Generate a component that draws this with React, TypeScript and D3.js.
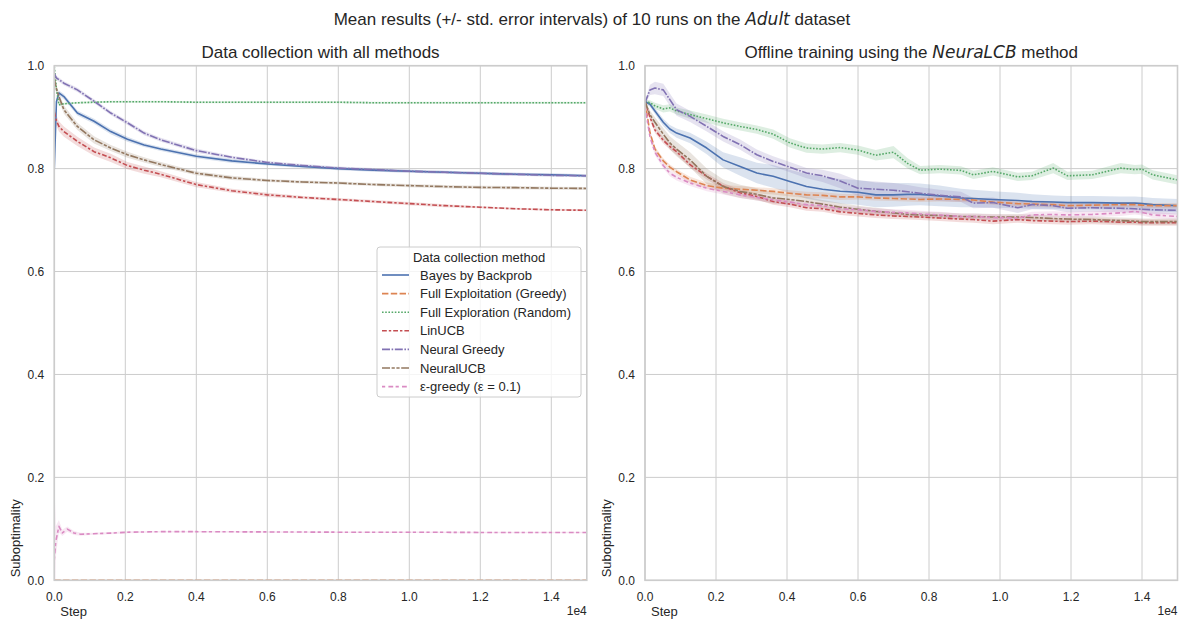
import React from 'react';
import * as d3 from 'd3';

// ---------- DATA ----------
const SERIES_NAMES = [
  'Bayes by Backprob',
  'Full Exploitation (Greedy)',
  'Full Exploration (Random)',
  'LinUCB',
  'Neural Greedy',
  'NeuralUCB',
  'ε-greedy (ε = 0.1)',
];

const X_TICKS = [0, 2000, 4000, 6000, 8000, 10000, 12000, 14000];
const Y_TICKS = [0, 0.2, 0.4, 0.6, 0.8, 1.0];

// Left panel: data collection
const LEFT_STEPS = [0, 60, 130, 270, 650, 1120, 1590, 2060, 2530, 3000, 4000, 5000, 6000, 7000, 8000, 9000, 10000, 11000, 12000, 13000, 14000, 15000];
const EPS_STEPS = [0, 40, 130, 225, 366, 555, 743, 1100, 1590, 2060, 3000, 4000, 6000, 8000, 10000, 12000, 15000];

const leftBayes = [0.80, 0.93, 0.947, 0.940, 0.908, 0.892, 0.872, 0.857, 0.846, 0.838, 0.824, 0.815, 0.809, 0.804, 0.800, 0.797, 0.795, 0.793, 0.791, 0.789, 0.788, 0.786];
const leftBayesErr = [0.01, 0.006, 0.005, 0.005, 0.005, 0.005, 0.005, 0.005, 0.004, 0.004, 0.004, 0.004, 0.003, 0.003, 0.003, 0.003, 0.003, 0.003, 0.003, 0.003, 0.003, 0.003];
// not visible in the reference: lies on the bottom spine (suboptimality 0)
const leftGreedy = [0, 0, 0, 0, 0, 0, 0, 0, 0, 0, 0, 0, 0, 0, 0, 0, 0, 0, 0, 0, 0, 0];
const leftGreedyErr = [0, 0, 0, 0, 0, 0, 0, 0, 0, 0, 0, 0, 0, 0, 0, 0, 0, 0, 0, 0, 0, 0];
const leftRandom = [0.998, 0.955, 0.924, 0.926, 0.928, 0.929, 0.930, 0.930, 0.930, 0.930, 0.929, 0.929, 0.929, 0.929, 0.929, 0.928, 0.928, 0.928, 0.928, 0.928, 0.928, 0.928];
const leftRandomErr = [0.004, 0.004, 0.003, 0.002, 0.002, 0.002, 0.002, 0.002, 0.002, 0.002, 0.002, 0.002, 0.002, 0.002, 0.002, 0.002, 0.002, 0.002, 0.002, 0.002, 0.002, 0.002];
const leftLinUCB = [0.91, 0.893, 0.882, 0.872, 0.853, 0.833, 0.821, 0.806, 0.797, 0.789, 0.769, 0.757, 0.749, 0.744, 0.740, 0.736, 0.732, 0.728, 0.725, 0.722, 0.720, 0.719];
const leftLinUCBErr = [0.012, 0.01, 0.01, 0.01, 0.009, 0.008, 0.008, 0.007, 0.007, 0.006, 0.005, 0.004, 0.004, 0.003, 0.003, 0.003, 0.003, 0.003, 0.002, 0.002, 0.002, 0.002];
const leftNeuralGreedy = [0.985, 0.976, 0.973, 0.966, 0.953, 0.931, 0.908, 0.889, 0.869, 0.856, 0.835, 0.822, 0.812, 0.806, 0.801, 0.798, 0.795, 0.793, 0.791, 0.789, 0.787, 0.786];
const leftNeuralGreedyErr = [0.005, 0.004, 0.004, 0.004, 0.004, 0.004, 0.004, 0.004, 0.004, 0.004, 0.004, 0.003, 0.003, 0.003, 0.003, 0.003, 0.003, 0.003, 0.003, 0.003, 0.003, 0.003];
const leftNeuralUCB = [0.975, 0.955, 0.940, 0.9145, 0.882, 0.856, 0.840, 0.827, 0.817, 0.808, 0.791, 0.782, 0.777, 0.774, 0.772, 0.769, 0.767, 0.765, 0.7635, 0.763, 0.762, 0.7615];
const leftNeuralUCBErr = [0.01, 0.008, 0.008, 0.008, 0.007, 0.007, 0.006, 0.006, 0.005, 0.005, 0.004, 0.004, 0.003, 0.003, 0.003, 0.003, 0.003, 0.003, 0.003, 0.003, 0.003, 0.003];
const leftEps = [0.04, 0.075, 0.105, 0.092, 0.0995, 0.092, 0.0895, 0.0905, 0.0917, 0.0935, 0.0945, 0.0945, 0.094, 0.0935, 0.0935, 0.093, 0.093];
const leftEpsErr = [0.16, 0.03, 0.012, 0.006, 0.005, 0.004, 0.003, 0.002, 0.002, 0.002, 0.0015, 0.0015, 0.0015, 0.0015, 0.0015, 0.0015, 0.0015];

// Right panel: offline training with NeuraLCB
const RIGHT_STEPS = [0, 140, 280, 515, 700, 890, 1270, 1740, 2200, 2680, 3150, 3610, 4080, 4550, 5000, 5500, 6000, 6500, 7000, 7400, 7750, 8300, 8900, 9250, 9800, 10500, 10900, 11500, 11900, 12600, 13400, 13800, 14000, 14300, 15000];

const rightBayes = [0.93, 0.925, 0.912, 0.89, 0.877, 0.869, 0.8595, 0.840, 0.817, 0.804, 0.7914, 0.785, 0.775, 0.7654, 0.760, 0.756, 0.754, 0.749, 0.749, 0.750, 0.750, 0.747, 0.743, 0.742, 0.740, 0.738, 0.736, 0.735, 0.734, 0.734, 0.733, 0.733, 0.732, 0.730, 0.728];
const rightBayesErr = [0.004, 0.005, 0.006, 0.007, 0.008, 0.009, 0.01, 0.012, 0.015, 0.018, 0.02, 0.022, 0.023, 0.024, 0.024, 0.024, 0.024, 0.024, 0.023, 0.022, 0.021, 0.02, 0.018, 0.017, 0.016, 0.015, 0.014, 0.013, 0.013, 0.013, 0.013, 0.013, 0.013, 0.013, 0.013];
const rightGreedy = [0.93, 0.87, 0.838, 0.815, 0.803, 0.794, 0.778, 0.767, 0.762, 0.760, 0.758, 0.7557, 0.752, 0.749, 0.748, 0.745, 0.745, 0.743, 0.742, 0.741, 0.740, 0.741, 0.740, 0.739, 0.735, 0.732, 0.731, 0.730, 0.728, 0.729, 0.730, 0.730, 0.729, 0.728, 0.728];
const rightGreedyErr = [0.004, 0.005, 0.005, 0.005, 0.005, 0.005, 0.006, 0.006, 0.006, 0.006, 0.006, 0.006, 0.006, 0.006, 0.006, 0.006, 0.005, 0.005, 0.005, 0.005, 0.005, 0.005, 0.005, 0.005, 0.005, 0.005, 0.005, 0.005, 0.005, 0.005, 0.005, 0.005, 0.005, 0.005, 0.005];
const rightRandom = [0.93, 0.928, 0.922, 0.916, 0.918, 0.912, 0.905, 0.897, 0.889, 0.882, 0.876, 0.867, 0.850, 0.840, 0.838, 0.841, 0.836, 0.826, 0.832, 0.810, 0.797, 0.799, 0.7965, 0.788, 0.7946, 0.784, 0.786, 0.801, 0.786, 0.788, 0.801, 0.798, 0.799, 0.788, 0.778];
const rightRandomErr = [0.004, 0.005, 0.006, 0.007, 0.007, 0.007, 0.008, 0.008, 0.008, 0.008, 0.008, 0.009, 0.009, 0.009, 0.009, 0.009, 0.009, 0.01, 0.012, 0.01, 0.008, 0.008, 0.008, 0.008, 0.008, 0.008, 0.008, 0.01, 0.008, 0.008, 0.01, 0.009, 0.009, 0.009, 0.009];
const rightLinUCB = [0.93, 0.90, 0.875, 0.855, 0.843, 0.833, 0.8076, 0.785, 0.766, 0.753, 0.746, 0.736, 0.731, 0.724, 0.722, 0.716, 0.713, 0.710, 0.708, 0.707, 0.706, 0.704, 0.702, 0.701, 0.698, 0.701, 0.699, 0.698, 0.697, 0.698, 0.696, 0.696, 0.695, 0.695, 0.695];
const rightLinUCBErr = [0.004, 0.006, 0.006, 0.006, 0.006, 0.006, 0.006, 0.006, 0.006, 0.006, 0.006, 0.006, 0.006, 0.006, 0.006, 0.006, 0.006, 0.006, 0.006, 0.006, 0.006, 0.006, 0.006, 0.006, 0.006, 0.006, 0.006, 0.006, 0.006, 0.006, 0.006, 0.006, 0.006, 0.006, 0.006];
const rightNeuralGreedy = [0.928, 0.953, 0.9566, 0.953, 0.934, 0.9145, 0.9015, 0.882, 0.8626, 0.8465, 0.827, 0.814, 0.803, 0.7914, 0.786, 0.776, 0.762, 0.760, 0.758, 0.755, 0.752, 0.748, 0.745, 0.733, 0.734, 0.724, 0.730, 0.728, 0.723, 0.724, 0.723, 0.722, 0.721, 0.720, 0.719];
const rightNeuralGreedyErr = [0.004, 0.01, 0.012, 0.012, 0.012, 0.012, 0.011, 0.01, 0.01, 0.01, 0.01, 0.01, 0.01, 0.01, 0.012, 0.014, 0.015, 0.015, 0.014, 0.013, 0.012, 0.011, 0.01, 0.01, 0.01, 0.01, 0.009, 0.008, 0.008, 0.008, 0.008, 0.008, 0.008, 0.008, 0.008];
const rightNeuralUCB = [0.93, 0.905, 0.89, 0.867, 0.85, 0.838, 0.817, 0.785, 0.7654, 0.7557, 0.750, 0.743, 0.740, 0.736, 0.731, 0.725, 0.721, 0.717, 0.714, 0.711, 0.710, 0.709, 0.707, 0.707, 0.706, 0.706, 0.705, 0.703, 0.702, 0.701, 0.699, 0.698, 0.697, 0.697, 0.697];
const rightNeuralUCBErr = [0.004, 0.008, 0.01, 0.012, 0.013, 0.014, 0.015, 0.015, 0.014, 0.013, 0.012, 0.011, 0.01, 0.009, 0.008, 0.008, 0.007, 0.007, 0.006, 0.006, 0.006, 0.006, 0.006, 0.006, 0.006, 0.006, 0.006, 0.006, 0.006, 0.006, 0.006, 0.006, 0.006, 0.006, 0.006];
const rightEps = [0.92, 0.862, 0.832, 0.806, 0.791, 0.783, 0.772, 0.762, 0.7557, 0.749, 0.744, 0.7395, 0.735, 0.730, 0.728, 0.722, 0.720, 0.717, 0.715, 0.714, 0.712, 0.710, 0.707, 0.707, 0.705, 0.704, 0.710, 0.711, 0.710, 0.711, 0.714, 0.717, 0.715, 0.710, 0.707];
const rightEpsErr = [0.004, 0.006, 0.006, 0.006, 0.006, 0.006, 0.006, 0.006, 0.006, 0.006, 0.006, 0.006, 0.006, 0.006, 0.006, 0.006, 0.006, 0.006, 0.006, 0.006, 0.006, 0.006, 0.006, 0.006, 0.006, 0.006, 0.006, 0.006, 0.006, 0.006, 0.006, 0.006, 0.006, 0.006, 0.006];

// ---------- STYLE ----------
const COLORS = ['#4c72b0', '#dd8452', '#55a868', '#c44e52', '#8172b3', '#937860', '#da8bc3'];
const LW = 1.6;
const DASHES = [
  null,
  [4, 1.5],
  [1, 1],
  [3, 1.25, 1.5, 1.25],
  [5, 1, 1, 1],
  [5, 1, 2, 1, 2, 1],
  [2, 2, 3, 1.5],
].map((d) => (d ? d.map((v) => v * LW).join(' ') : undefined));

const FONT = '"Liberation Sans", Arial, "DejaVu Sans", sans-serif';
const TEXT = '#262626';
const GRID = '#cccccc';

type Series = { steps: number[]; v: number[]; e: number[] };

const LEFT_SERIES: Series[] = [
  { steps: LEFT_STEPS, v: leftBayes, e: leftBayesErr },
  { steps: LEFT_STEPS, v: leftGreedy, e: leftGreedyErr },
  { steps: LEFT_STEPS, v: leftRandom, e: leftRandomErr },
  { steps: LEFT_STEPS, v: leftLinUCB, e: leftLinUCBErr },
  { steps: LEFT_STEPS, v: leftNeuralGreedy, e: leftNeuralGreedyErr },
  { steps: LEFT_STEPS, v: leftNeuralUCB, e: leftNeuralUCBErr },
  { steps: EPS_STEPS, v: leftEps, e: leftEpsErr },
];
const RIGHT_SERIES: Series[] = [
  { steps: RIGHT_STEPS, v: rightBayes, e: rightBayesErr },
  { steps: RIGHT_STEPS, v: rightGreedy, e: rightGreedyErr },
  { steps: RIGHT_STEPS, v: rightRandom, e: rightRandomErr },
  { steps: RIGHT_STEPS, v: rightLinUCB, e: rightLinUCBErr },
  { steps: RIGHT_STEPS, v: rightNeuralGreedy, e: rightNeuralGreedyErr },
  { steps: RIGHT_STEPS, v: rightNeuralUCB, e: rightNeuralUCBErr },
  { steps: RIGHT_STEPS, v: rightEps, e: rightEpsErr },
];

const TOP = 65.7;
const BOTTOM = 580.3;

function Panel(props: {
  id: string;
  left: number;
  right: number;
  titlePre: string;
  titleItalic?: string;
  titlePost?: string;
  series: Series[];
  legend?: boolean;
}) {
  const { id, left, right, series } = props;
  const x = d3.scaleLinear().domain([0, 15000]).range([left, right]);
  const y = d3.scaleLinear().domain([0, 1]).range([BOTTOM, TOP]);
  type P = { s: number; v: number; e: number };
  const line = d3.line<P>().x((d) => x(d.s)).y((d) => y(d.v));
  const area = d3
    .area<P>()
    .x((d) => x(d.s))
    .y0((d) => y(d.v - d.e))
    .y1((d) => y(d.v + d.e));
  const pts = series.map((s) => s.steps.map((st, i) => ({ s: st, v: s.v[i], e: s.e[i] })));
  const cx = (left + right) / 2;

  const legX = 377;
  const legY = 247;
  const legW = 204;
  const legH = 150;

  return (
    <g>
      <defs>
        <clipPath id={id}>
          <rect x={left} y={TOP} width={right - left} height={BOTTOM - TOP} />
        </clipPath>
      </defs>
      {X_TICKS.map((t) => (
        <line key={'gx' + t} x1={x(t)} x2={x(t)} y1={TOP} y2={BOTTOM} stroke={GRID} strokeWidth={1} />
      ))}
      {Y_TICKS.map((t) => (
        <line key={'gy' + t} x1={left} x2={right} y1={y(t)} y2={y(t)} stroke={GRID} strokeWidth={1} />
      ))}
      <g clipPath={`url(#${id})`}>
        {pts.map((p, i) => (
          <path key={'a' + i} d={area(p) || ''} fill={COLORS[i]} fillOpacity={0.2} stroke="none" />
        ))}
        {pts.map((p, i) => (
          <path
            key={'l' + i}
            d={line(p) || ''}
            fill="none"
            stroke={COLORS[i]}
            strokeWidth={LW}
            strokeDasharray={DASHES[i]}
            strokeLinejoin="round"
          />
        ))}
      </g>
      <rect x={left} y={TOP} width={right - left} height={BOTTOM - TOP} fill="none" stroke={GRID} strokeWidth={1.6} />
      {X_TICKS.map((t) => (
        <text key={'tx' + t} x={x(t)} y={600.5} textAnchor="middle" fontSize={12} fill={TEXT} fontFamily={FONT}>
          {(t / 1e4).toFixed(1)}
        </text>
      ))}
      {Y_TICKS.map((t) => (
        <text key={'ty' + t} x={left - 10} y={y(t) + 4.3} textAnchor="end" fontSize={12} fill={TEXT} fontFamily={FONT}>
          {t.toFixed(1)}
        </text>
      ))}
      <text x={right} y={614.5} textAnchor="end" fontSize={12} fill={TEXT} fontFamily={FONT}>
        1e4
      </text>
      <text x={left + 6} y={616} fontSize={13} fill={TEXT} fontFamily={FONT}>
        Step
      </text>
      <text
        transform={`translate(${left - 34},${BOTTOM - 3}) rotate(-90)`}
        fontSize={13}
        fill={TEXT}
        fontFamily={FONT}
      >
        Suboptimality
      </text>
      <text x={cx} y={58} textAnchor="middle" fontSize={17} fill={TEXT} fontFamily={FONT}>
        {props.titlePre}
        {props.titleItalic ? (
          <tspan fontFamily='"DejaVu Sans", sans-serif' fontStyle="italic">
            {props.titleItalic}
          </tspan>
        ) : null}
        {props.titlePost || ''}
      </text>
      {props.legend ? (
        <g>
          <rect x={legX} y={legY} width={legW} height={legH} rx={3} fill="#ffffff" fillOpacity={0.8} stroke={GRID} strokeWidth={1} />
          <text x={legX + legW / 2} y={legY + 14.5} textAnchor="middle" fontSize={13} fill={TEXT} fontFamily={FONT}>
            Data collection method
          </text>
          {SERIES_NAMES.map((n, i) => {
            const yy = 275 + i * 18.6;
            return (
              <g key={'lg' + i}>
                <line x1={382} x2={409} y1={yy} y2={yy} stroke={COLORS[i]} strokeWidth={LW} strokeDasharray={DASHES[i]} />
                <text x={420} y={yy + 4.6} fontSize={13} fill={TEXT} fontFamily={FONT}>
                  {n}
                </text>
              </g>
            );
          })}
        </g>
      ) : null}
    </g>
  );
}

export default function App() {
  return (
    <svg
      width={1184}
      height={623}
      viewBox="0 0 1184 623"
      style={{ position: 'absolute', left: 0, top: 0, background: '#ffffff' }}
    >
      <rect x={0} y={0} width={1184} height={623} fill="#ffffff" />
      <text x={592} y={24.5} textAnchor="middle" fontSize={17} fill={TEXT} fontFamily={FONT}>
        {'Mean results (+/- std. error intervals) of 10 runs on the '}
        <tspan fontFamily='"DejaVu Sans", sans-serif' fontStyle="italic">
          Adult
        </tspan>
        {' dataset'}
      </text>
      <Panel
        id="clipL"
        left={54.3}
        right={586.8}
        titlePre="Data collection with all methods"
        series={LEFT_SERIES}
        legend
      />
      <Panel
        id="clipR"
        left={645}
        right={1177.5}
        titlePre="Offline training using the "
        titleItalic="NeuraLCB"
        titlePost=" method"
        series={RIGHT_SERIES}
      />
    </svg>
  );
}
